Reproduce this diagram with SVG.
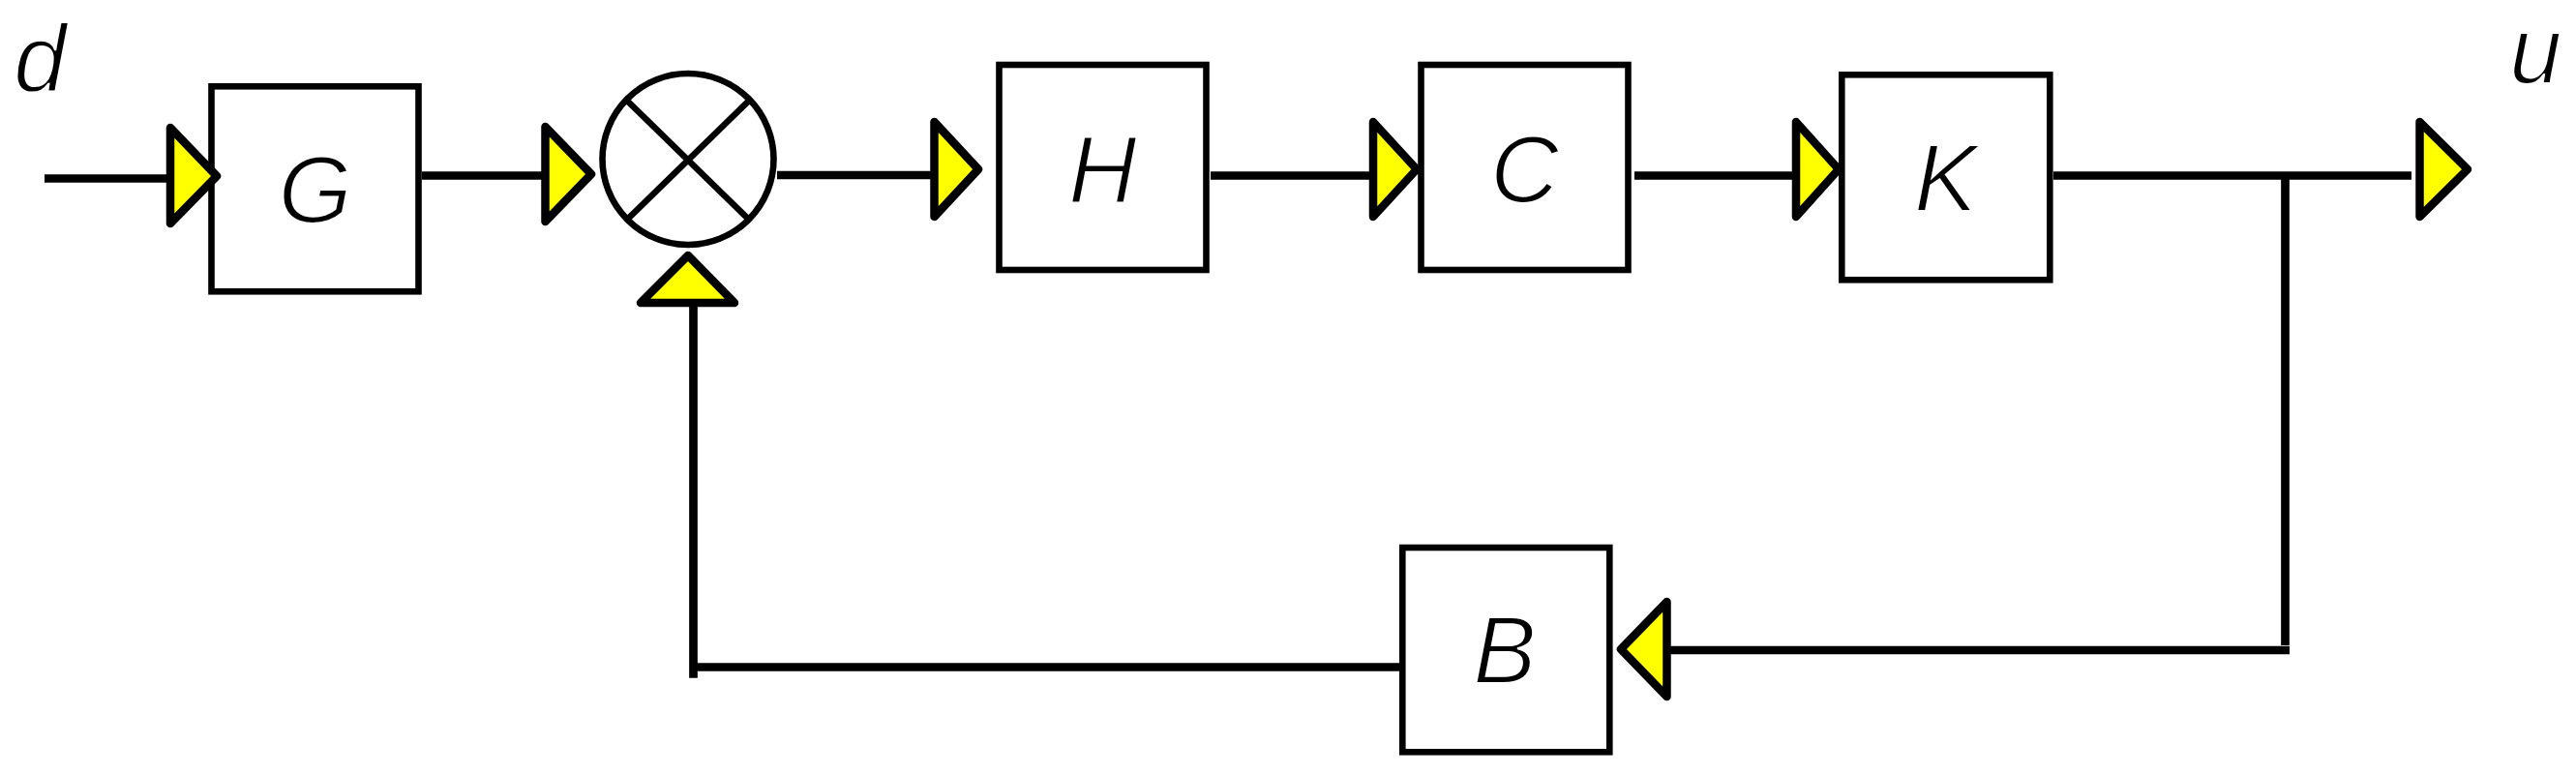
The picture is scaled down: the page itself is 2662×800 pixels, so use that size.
<svg xmlns="http://www.w3.org/2000/svg" width="2662" height="800" viewBox="0 0 2662 800">
<style>
.box{fill:#fff;stroke:#000;stroke-width:6.6}
.lbl{font-family:"Liberation Sans",Arial,sans-serif;font-style:italic;font-size:98px;fill:#000;stroke:#fff;stroke-width:2.2;text-anchor:middle}
.sig{font-family:"Liberation Sans",Arial,sans-serif;font-style:italic;font-size:98px;fill:#000;stroke:#fff;stroke-width:2.2}
.tri{fill:#ffff00;stroke:#000;stroke-width:8.5;stroke-linejoin:round}
.ln{fill:none;stroke:#000;stroke-width:8.7}
.sum{fill:#fff;stroke:#000;stroke-width:6.6}
.x{stroke:#000;stroke-width:6.6}
</style>
<rect width="2662" height="800" fill="#fff"/>
<g id="connectors">
<line class="ln" x1="46" y1="184.5" x2="176" y2="184.5"/>
<line class="ln" x1="436" y1="181.5" x2="562" y2="181.5"/>
<line class="ln" x1="803" y1="181" x2="965" y2="181"/>
<line class="ln" x1="1251" y1="181.5" x2="1418" y2="181.5"/>
<line class="ln" x1="1689" y1="181.5" x2="1855" y2="181.5"/>
<line class="ln" x1="2122" y1="181.5" x2="2492" y2="181.5"/>
<line class="ln" x1="2361.5" y1="181" x2="2361.5" y2="667"/>
<line class="ln" x1="1722" y1="672" x2="2366" y2="672"/>
<line class="ln" x1="716.5" y1="313" x2="716.5" y2="700.7"/>
<line class="ln" x1="716.5" y1="689.5" x2="1467.7" y2="689.5"/>
</g>
<g id="d-label"><text class="sig" x="14" y="94">d</text></g>
<g id="u-label"><text class="sig" x="2593" y="86">u</text></g>
<g id="G">
<rect class="box" x="218.5" y="89.3" width="214" height="212"/>
<text class="lbl" x="325.5" y="230">G</text>
</g>
<g id="sum">
<circle class="sum" cx="711" cy="164.5" r="88.5"/>
<line class="x" x1="648" y1="104" x2="774" y2="227"/>
<line class="x" x1="774" y1="104" x2="648" y2="227"/>
</g>
<g id="H">
<rect class="box" x="1032.5" y="67" width="214" height="212"/>
<text class="lbl" x="1139.5" y="209">H</text>
</g>
<g id="C">
<rect class="box" x="1468.5" y="67" width="214" height="212"/>
<text class="lbl" x="1575.5" y="209">C</text>
</g>
<g id="K">
<rect class="box" x="1903.3" y="77.3" width="215" height="212"/>
<text class="lbl" x="2010.8" y="218">K</text>
</g>
<g id="B">
<rect class="box" x="1449.3" y="566" width="214" height="211.3"/>
<text class="lbl" x="1555" y="706">B</text>
</g>
<g id="arrowheads">
<polygon class="tri" points="176,132 224,182 176,231"/>
<polygon class="tri" points="563.5,131 611,180 563.5,229"/>
<polygon class="tri" points="965.5,126 1011,175 965.5,224"/>
<polygon class="tri" points="1419,126 1464,175 1419,224"/>
<polygon class="tri" points="1856,126 1900,175 1856,224"/>
<polygon class="tri" points="2500.5,126 2550,175 2500.5,224"/>
<polygon class="tri" points="711,264 759,313 662,313"/>
<polygon class="tri" points="1722.5,622 1675,671 1722.5,720"/>
</g>
</svg>
